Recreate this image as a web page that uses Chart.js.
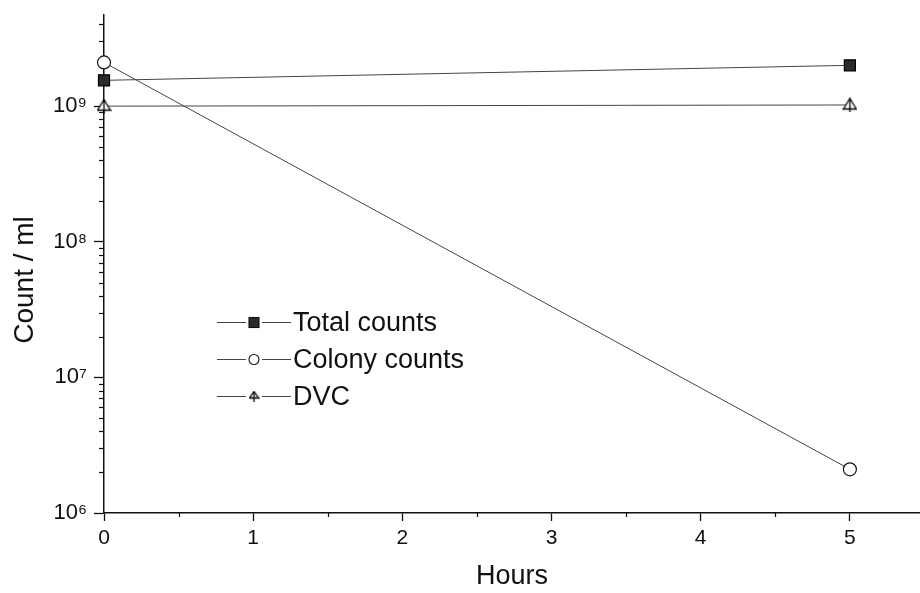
<!DOCTYPE html>
<html>
<head>
<meta charset="utf-8">
<script src="https://cdn.jsdelivr.net/npm/chart.js@4.4.1/dist/chart.umd.min.js"></script>
<style>
  html, body { margin: 0; padding: 0; background: #fff; }
  #wrap { width: 920px; height: 593px; }
</style>
</head>
<body>
<div id="wrap"><canvas id="c" width="920" height="593"></canvas></div>
<script>
// Sampling times (hours) and counts per ml for each method
const hours = [0, 5];
const totalCounts = [1.55e9, 2.0e9];
const colonyCounts = [2.1e9, 2.1e6];
const dvcCounts = [1.0e9, 1.02e9];
const seriesNames = ['Total counts', 'Colony counts', 'DVC'];

// Axis ticks and labels
const xTicks = [0, 0.5, 1, 1.5, 2, 2.5, 3, 3.5, 4, 4.5, 5];
const yDecades = [1e6, 1e7, 1e8, 1e9];
const yDecadeLabels = ['10⁶', '10⁷', '10⁸', '10⁹'];
const xTitle = 'Hours';
const yTitle = 'Count / ml';

const FONT = '"Liberation Sans", Arial, Helvetica, sans-serif';
const INK = '#111';
const LINE = '#444';
const Y_MAX = 4.7e9;

// log minor ticks (2..9 within each decade) plus the decades themselves
const yTickValues = [];
yDecades.forEach(d => {
  yTickValues.push(d);
  for (let m = 2; m <= 9; m++) if (d * m <= Y_MAX) yTickValues.push(d * m);
});

// open triangle with a vertical stroke, used as the DVC marker
function makeTriangle(size) {
  const cv = document.createElement('canvas');
  cv.width = size; cv.height = size;
  const g = cv.getContext('2d');
  const s = size;
  const c = Math.floor(s / 2) + 0.5;
  g.lineWidth = 1.3;
  g.strokeStyle = '#000';
  g.fillStyle = '#fff';
  g.beginPath();
  g.moveTo(c, 1);
  g.lineTo(s - 1, s - 3.5);
  g.lineTo(1, s - 3.5);
  g.closePath();
  g.fill();
  g.stroke();
  g.beginPath();
  g.moveTo(c, 1);
  g.lineTo(c, s);
  g.stroke();
  return cv;
}
const triMarker = makeTriangle(15);
const triMarkerSmall = makeTriangle(11);

const points = ys => hours.map((h, i) => ({ x: h, y: ys[i] }));

const seriesStyles = [
  { pointStyle: 'rect', pointRadius: 7.8, pointBackgroundColor: '#2b2b2b', pointBorderColor: '#000' },
  { pointStyle: 'circle', pointRadius: 6.5, pointBackgroundColor: '#fff', pointBorderColor: INK },
  { pointStyle: triMarker, pointRadius: 7, pointBackgroundColor: '#fff', pointBorderColor: INK }
];

const datasets = [totalCounts, colonyCounts, dvcCounts].map((vals, i) => Object.assign({
  label: seriesNames[i],
  data: points(vals),
  borderColor: LINE,
  borderWidth: 1,
  pointBorderWidth: 1.2,
  tension: 0,
  clip: false
}, seriesStyles[i]));

// short minor ticks on both axes, drawn from the scales' own tick lists
const minorTicks = {
  id: 'minorTicks',
  beforeDatasetsDraw(chart) {
    const { ctx } = chart;
    const xs = chart.scales.x, ys = chart.scales.y;
    ctx.save();
    ctx.strokeStyle = INK;
    ctx.lineWidth = 1.2;
    ys.ticks.forEach(t => {
      if (t.major) return;
      const y = Math.round(ys.getPixelForValue(t.value)) + 0.5;
      ctx.beginPath();
      ctx.moveTo(ys.right, y);
      ctx.lineTo(ys.right - 5, y);
      ctx.stroke();
    });
    xs.ticks.forEach(t => {
      if (t.major) return;
      const x = Math.round(xs.getPixelForValue(t.value)) + 0.5;
      ctx.beginPath();
      ctx.moveTo(x, xs.top);
      ctx.lineTo(x, xs.top + 4);
      ctx.stroke();
    });
    ctx.restore();
  }
};

// axis titles
const axisTitles = {
  id: 'axisTitles',
  afterDraw(chart) {
    const { ctx, chartArea: a } = chart;
    ctx.save();
    ctx.fillStyle = INK;
    ctx.textAlign = 'center';
    ctx.textBaseline = 'middle';
    ctx.font = '27px ' + FONT;
    ctx.fillText(xTitle, (a.left + a.right) / 2, a.bottom + 64);
    ctx.translate(25, 280);
    ctx.rotate(-Math.PI / 2);
    ctx.font = '28px ' + FONT;
    ctx.fillText(yTitle, 0, 0);
    ctx.restore();
  }
};

// in-plot legend: line, marker, line, then the series name
const plotLegend = {
  id: 'plotLegend',
  afterDraw(chart) {
    const { ctx } = chart;
    const x0 = 217, rowY = [322, 359, 396];
    ctx.save();
    ctx.font = '27px ' + FONT;
    ctx.textBaseline = 'middle';
    ctx.textAlign = 'left';
    chart.data.datasets.forEach((ds, i) => {
      const y = rowY[i] + 0.5;
      const mx = x0 + 37;
      ctx.strokeStyle = LINE;
      ctx.lineWidth = 1;
      ctx.beginPath();
      ctx.moveTo(x0, y); ctx.lineTo(mx - 8, y);
      ctx.moveTo(mx + 8, y); ctx.lineTo(x0 + 74, y);
      ctx.stroke();
      ctx.lineWidth = 1.1;
      ctx.strokeStyle = INK;
      if (i === 0) {
        ctx.fillStyle = '#2b2b2b';
        ctx.fillRect(mx - 5, y - 5, 10, 10);
        ctx.strokeRect(mx - 5, y - 5, 10, 10);
      } else if (i === 1) {
        ctx.fillStyle = '#fff';
        ctx.beginPath();
        ctx.arc(mx, y, 5, 0, Math.PI * 2);
        ctx.fill();
        ctx.stroke();
      } else {
        ctx.drawImage(triMarkerSmall, mx - 5.5, y - 6);
      }
      ctx.fillStyle = INK;
      ctx.fillText(ds.label, x0 + 76, y + 1);
    });
    ctx.restore();
  }
};

new Chart(document.getElementById('c'), {
  type: 'line',
  data: { datasets },
  plugins: [minorTicks, axisTitles, plotLegend],
  options: {
    responsive: false,
    animation: false,
    devicePixelRatio: 1,
    layout: { autoPadding: false, padding: { top: 15, right: 0, left: 0, bottom: 0 } },
    plugins: { legend: { display: false }, tooltip: { enabled: false } },
    scales: {
      x: {
        type: 'linear',
        min: 0,
        max: 5.47,
        afterBuildTicks: s => { s.ticks = xTicks.map(v => ({ value: v, major: Number.isInteger(v) })); },
        afterFit: s => { s.height = 80; s.paddingLeft = 0; s.paddingRight = 0; },
        border: { display: true, color: INK, width: 1.5 },
        grid: {
          drawOnChartArea: false,
          drawTicks: true,
          tickLength: 8,
          tickWidth: 1.3,
          tickColor: c => (c.tick && c.tick.major) ? INK : 'rgba(0,0,0,0)'
        },
        ticks: {
          autoSkip: false,
          maxRotation: 0,
          padding: 5,
          color: INK,
          font: { family: FONT, size: 21 },
          callback: v => Number.isInteger(v) ? String(v) : ''
        }
      },
      y: {
        type: 'logarithmic',
        min: 1e6,
        max: Y_MAX,
        afterBuildTicks: s => { s.ticks = yTickValues.map(v => ({ value: v, major: yDecades.includes(v) })); },
        afterFit: s => { s.width = 104; s.paddingTop = 0; s.paddingBottom = 0; },
        border: { display: true, color: INK, width: 1.5 },
        grid: {
          drawOnChartArea: false,
          drawTicks: true,
          tickLength: 10,
          tickWidth: 1.3,
          tickColor: c => (c.tick && c.tick.major) ? INK : 'rgba(0,0,0,0)'
        },
        ticks: {
          autoSkip: false,
          padding: 7,
          color: INK,
          font: { family: FONT, size: 22 },
          callback: v => { const k = yDecades.indexOf(v); return k >= 0 ? yDecadeLabels[k] : ''; }
        }
      }
    }
  }
});
</script>
</body>
</html>
